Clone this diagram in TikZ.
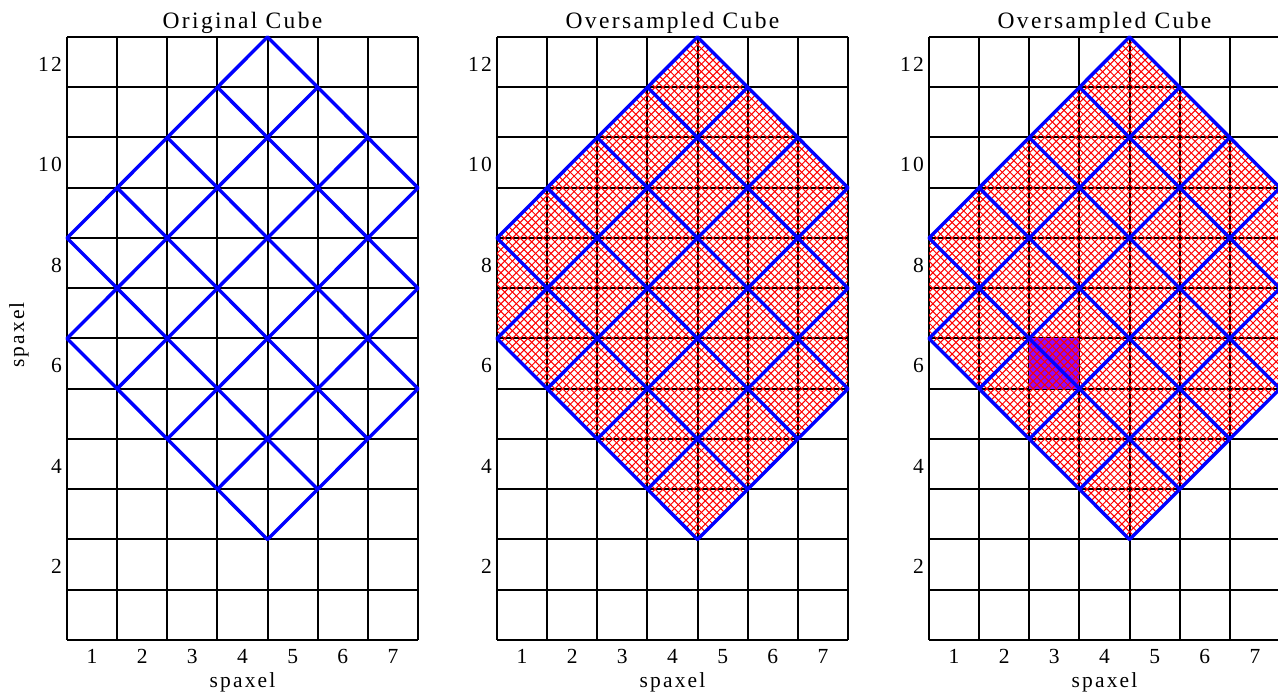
\documentclass[tikz,border=0pt]{standalone}
\usepackage{fontspec}
\setmainfont[LetterSpace=10]{Liberation Serif}
\definecolor{hatchred}{RGB}{255,0,0}
\definecolor{cellblue}{RGB}{0,0,255}
\definecolor{violetfill}{RGB}{140,10,255}
\tikzset{
  gridline/.style={black, line width=2pt},
  hatchline/.style={hatchred, line width=1.0pt},
  cellline/.style={cellblue, line width=3.4pt, line cap=round},
  ticklab/.style={inner sep=0pt, font=\fontsize{21.5}{24}\selectfont},
  titlelab/.style={inner sep=0pt, anchor=base, font=\fontsize{23.5}{28}\selectfont},
  axlab/.style={inner sep=0pt, font=\fontsize{21.5}{24}\selectfont},
}
\newcommand\regionpath{(4.5,12.5) -- (7.5,9.5) -- (7.5,5.5) -- (4.5,2.5) -- (0.5,6.5) -- (0.5,8.5) -- cycle}
% #1 = left edge (px), #2 = hatch (1/0), #3 = violet cell (1/0), #4 = panel name
\newcommand\drawpanel[4]{%
  \begin{scope}[shift={(#1pt-25.07pt,55pt-25.125pt)}, x=50.14pt, y=50.25pt]
    % grid
    \foreach \i in {0.5,1.5,...,7.5} \draw[gridline] (\i,0.5) -- (\i,12.5);
    \foreach \j in {0.5,1.5,...,12.5} \draw[gridline] (0.5,\j) -- (7.5,\j);
    \ifnum#3=1
      \fill[violetfill] (2.5,5.5) rectangle (3.5,6.5);
    \fi
    \ifnum#2=1
      \begin{scope}
        \clip \regionpath;
        \foreach \k in {0,...,65} {
          \pgfmathsetmacro\cv{-2+\k*2/13}
          \pgfmathsetmacro\cu{7+\k*2/13}
          \draw[hatchline] (0,\cv) -- (8,8+\cv);
          \draw[hatchline] (0,\cu) -- (8,\cu-8);
        }
      \end{scope}
    \fi
    % blue cells
    \draw[cellline] (4.5,12.5) -- (7.5,9.5);
    \draw[cellline] (3.5,11.5) -- (7.5,7.5);
    \draw[cellline] (2.5,10.5) -- (7.5,5.5);
    \draw[cellline] (1.5,9.5) -- (6.5,4.5);
    \draw[cellline] (0.5,8.5) -- (5.5,3.5);
    \draw[cellline] (0.5,6.5) -- (4.5,2.5);
    \draw[cellline] (0.5,8.5) -- (4.5,12.5);
    \draw[cellline] (0.5,6.5) -- (5.5,11.5);
    \draw[cellline] (1.5,5.5) -- (6.5,10.5);
    \draw[cellline] (2.5,4.5) -- (7.5,9.5);
    \draw[cellline] (3.5,3.5) -- (7.5,7.5);
    \draw[cellline] (4.5,2.5) -- (7.5,5.5);
    % ticks
    \foreach \i in {1,...,7} \node[ticklab] (#4x\i) at (\i,0.175) {\i};
    \foreach \j in {2,4,...,12} \node[ticklab, anchor=east] (#4y\j) at (0.4,\j-0.04) {\j};
  \end{scope}
}
\begin{document}
\begin{tikzpicture}[x=1pt,y=1pt]
  \useasboundingbox (0,0) rectangle (1278,695);
  \fill[white] (0,0) rectangle (1278,695);
  \drawpanel{67}{0}{0}{a}
  \drawpanel{497}{1}{0}{b}
  \drawpanel{929}{1}{1}{c}
  \node[titlelab] (t1) at (242.5,666) {Original Cube};
  \node[titlelab] (t2) at (672.5,666) {Oversampled Cube};
  \node[titlelab] (t3) at (1104.5,666) {Oversampled Cube};
  \node[axlab, anchor=base] (xl1) at (242.5,7) {spaxel};
  \node[axlab, anchor=base] (xl2) at (672.5,7) {spaxel};
  \node[axlab, anchor=base] (xl3) at (1104.5,7) {spaxel};
  \node[axlab, rotate=90] (yl1) at (19,360) {spaxel};
\end{tikzpicture}
\end{document}
